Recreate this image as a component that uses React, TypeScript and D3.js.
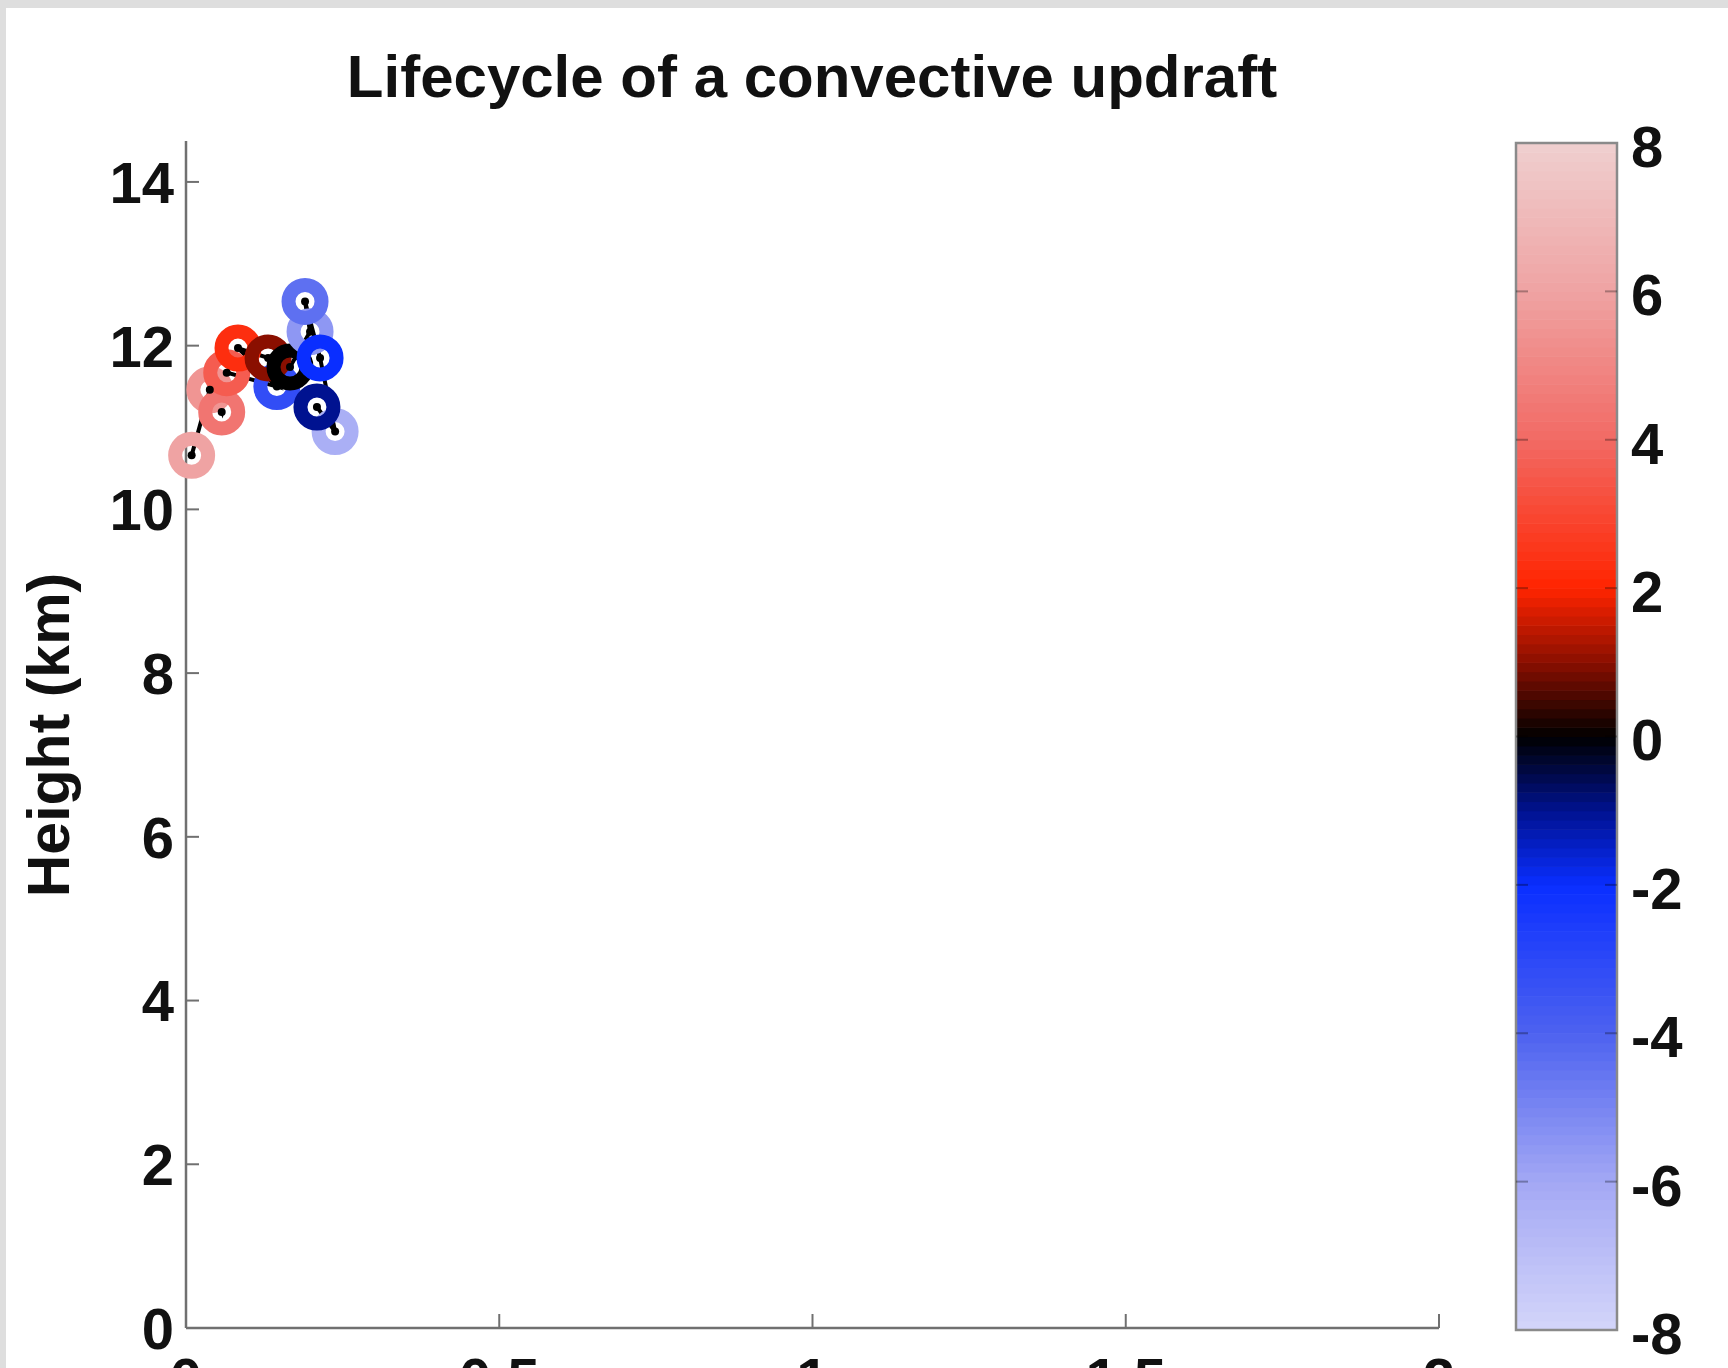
import React from "react";
import * as d3 from "d3";

// Track of one updraft core: horizontal distance, height and vertical velocity
const pointX = [0.009, 0.038, 0.057, 0.065, 0.145, 0.083, 0.131, 0.166, 0.198, 0.19, 0.214, 0.238, 0.209];
const pointHeight = [10.66, 11.46, 11.19, 11.67, 11.5, 11.97, 11.85, 11.74, 12.17, 12.54, 11.85, 10.95, 11.25];
const pointW = [6.0, 5.5, 4.4, 3.6, -3.2, 2.3, 1.0, 0.0, -5.5, -4.4, -2.0, -6.3, -1.0];

const xTicks = [0, 0.5, 1, 1.5, 2];
const xTickLabels = ["0", "0.5", "1", "1.5", "2"];
const yTicks = [0, 2, 4, 6, 8, 10, 12, 14];
const cbTicks = [-8, -6, -4, -2, 0, 2, 4, 6, 8];

// Diverging red/black/blue colour map
const cmapStops = [-8, -6, -4, -2, -1, 0, 1, 2, 4, 6, 8];
const cmapColors = [
  "#d3d5fa", "#a3a8f4", "#4d62f0", "#0a2eff", "#001290", "#000000",
  "#8a0f00", "#ff2400", "#f26a64", "#efa3a3", "#efcfcf",
];

const W = 1728;
const H = 1368;
const FONT = "'Liberation Sans', Arial, Helvetica, sans-serif";

export default function App() {
  const x = d3.scaleLinear().domain([0, 2]).range([186, 1439]);
  const y = d3.scaleLinear().domain([0, 14.5]).range([1328, 141]);
  const cb = d3.scaleLinear().domain([-8, 8]).range([1330, 143]);
  const color = d3
    .scaleLinear<string>()
    .domain(cmapStops)
    .range(cmapColors)
    .interpolate(d3.interpolateRgb)
    .clamp(true);

  const nBands = 128;
  const bandVals = d3.range(nBands).map((i) => -8 + (16 * (i + 0.5)) / nBands);
  const bandH = (cb(-8) - cb(8)) / nBands;
  const cbLeft = 1516;
  const cbRight = 1617;

  const pts = pointX.map((px, i) => ({
    cx: x(px),
    cy: y(pointHeight[i]),
    c: color(pointW[i]),
  }));
  const path = d3
    .line<number>()
    .x((_, i) => x(pointX[i]))
    .y((h) => y(h))(pointHeight);

  const axisColor = "#707070";
  const textColor = "#111";

  return (
    <div style={{ position: "absolute", left: 0, top: 0 }}>
      <svg width={W} height={H} style={{ display: "block" }}>
        <rect x={0} y={0} width={W} height={H} fill="#dedede" />
        <rect x={6} y={8} width={W - 6} height={H - 8} fill="#ffffff" />

        {/* title */}
        <text
          x={812}
          y={97}
          textAnchor="middle"
          fontFamily={FONT}
          fontWeight="bold"
          fontSize={60}
          fill={textColor}
        >
          Lifecycle of a convective updraft
        </text>

        {/* axes */}
        <line x1={x(0)} x2={x(0)} y1={y(14.5)} y2={y(0)} stroke={axisColor} strokeWidth={2.5} />
        <line x1={x(0)} x2={x(2)} y1={y(0)} y2={y(0)} stroke={axisColor} strokeWidth={2.5} />
        {yTicks.map((t) => (
          <g key={"y" + t}>
            <line x1={x(0)} x2={x(0) + 13} y1={y(t)} y2={y(t)} stroke={axisColor} strokeWidth={2} />
            <text
              x={174}
              y={y(t)}
              dy="0.36em"
              textAnchor="end"
              fontFamily={FONT}
              fontWeight="bold"
              fontSize={58}
              fill={textColor}
            >
              {t}
            </text>
          </g>
        ))}
        {xTicks.map((t, i) => (
          <g key={"x" + t}>
            <line x1={x(t)} x2={x(t)} y1={y(0)} y2={y(0) - 14} stroke={axisColor} strokeWidth={2} />
            <text
              x={x(t)}
              y={1399}
              textAnchor="middle"
              fontFamily={FONT}
              fontWeight="bold"
              fontSize={58}
              fill={textColor}
            >
              {xTickLabels[i]}
            </text>
          </g>
        ))}
        <text
          transform={`translate(69, 735) rotate(-90)`}
          textAnchor="middle"
          fontFamily={FONT}
          fontWeight="bold"
          fontSize={59}
          fill={textColor}
        >
          Height (km)
        </text>

        {/* trajectory line under the rings */}
        <path d={path ?? ""} fill="none" stroke="#000" strokeWidth={4} />
        {pts.map((p, i) => (
          <circle key={"r" + i} cx={p.cx} cy={p.cy} r={16.5} fill="none" stroke={p.c} strokeWidth={14} />
        ))}
        {pts.map((p, i) => (
          <circle key={"d" + i} cx={p.cx} cy={p.cy} r={4} fill="#000" />
        ))}

        {/* colorbar */}
        {bandVals.map((v, i) => (
          <rect
            key={"b" + i}
            x={cbLeft}
            y={cb(v) - bandH / 2}
            width={cbRight - cbLeft}
            height={bandH + 0.6}
            fill={color(v)}
          />
        ))}
        <rect
          x={cbLeft}
          y={cb(8)}
          width={cbRight - cbLeft}
          height={cb(-8) - cb(8)}
          fill="none"
          stroke="#8a8a8a"
          strokeWidth={2.5}
        />
        {cbTicks.map((t) => (
          <g key={"c" + t}>
            {t !== 8 && t !== -8 && (
              <>
                <line x1={cbLeft} x2={cbLeft + 12} y1={cb(t)} y2={cb(t)} stroke="#000" strokeOpacity={0.3} strokeWidth={2} />
                <line x1={cbRight - 12} x2={cbRight} y1={cb(t)} y2={cb(t)} stroke="#000" strokeOpacity={0.3} strokeWidth={2} />
              </>
            )}
            <text
              x={1631}
              y={cb(t) + 3}
              dy="0.36em"
              fontFamily={FONT}
              fontWeight="bold"
              fontSize={58}
              fill={textColor}
            >
              {t}
            </text>
          </g>
        ))}
      </svg>
    </div>
  );
}
